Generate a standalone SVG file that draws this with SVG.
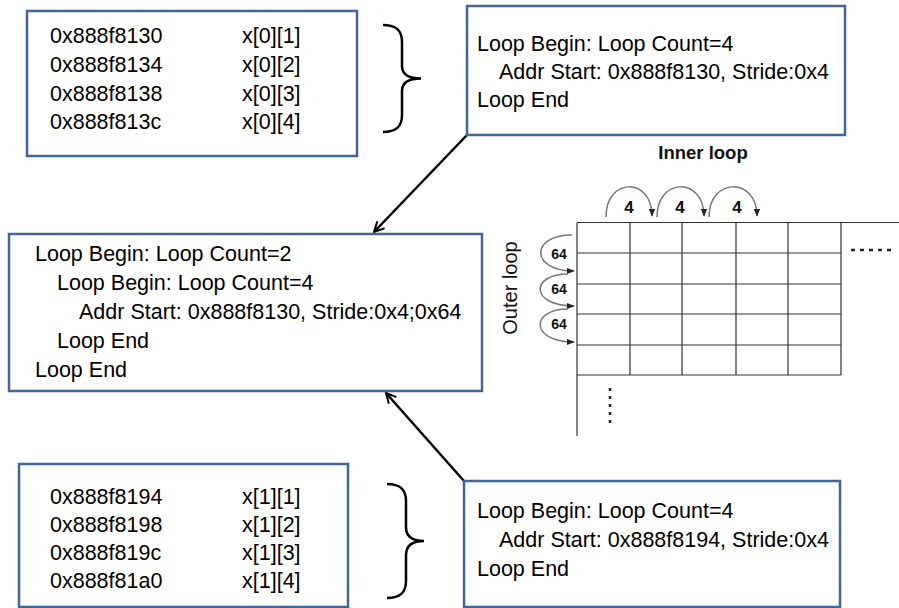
<svg xmlns="http://www.w3.org/2000/svg" width="899" height="608" viewBox="0 0 899 608">
<defs>
<style>
.box{fill:#fff;stroke:#41679a;stroke-width:2.5}
.t{font-family:"Liberation Sans",Arial,sans-serif;font-size:21.5px;fill:#000}
.brace{fill:none;stroke:#000;stroke-width:2.5}
.conn{fill:none;stroke:#000;stroke-width:2.5}
.grid{fill:none;stroke:#333;stroke-width:1.2}
.arc{fill:none;stroke:#777;stroke-width:1.5}
.lbl{font-family:"Liberation Sans",Arial,sans-serif;font-weight:bold;fill:#111;text-anchor:middle}
.dots{fill:none;stroke:#222;stroke-width:2.5}
</style>
<marker id="open" viewBox="0 0 12 12" refX="11" refY="6" markerWidth="12" markerHeight="12" markerUnits="userSpaceOnUse" orient="auto">
<path d="M1,1 L11,6 L1,11" fill="none" stroke="#000" stroke-width="2"/>
</marker>
<marker id="tri" viewBox="0 0 10 10" refX="9" refY="5" markerWidth="8" markerHeight="8" markerUnits="userSpaceOnUse" orient="auto">
<path d="M0,1 L10,5 L0,9 Z" fill="#222"/>
</marker>
</defs>

<g id="connectors">
<line class="conn" x1="467" y1="135" x2="374" y2="232" marker-end="url(#open)"/>
<line class="conn" x1="464" y1="481" x2="386" y2="393" marker-end="url(#open)"/>
</g>

<g id="addr-box-0">
<rect class="box" x="27" y="11" width="330" height="145"/>
<text class="t" x="50" y="43">0x888f8130</text>
<text class="t" x="50" y="72">0x888f8134</text>
<text class="t" x="50" y="100.5">0x888f8138</text>
<text class="t" x="50" y="129">0x888f813c</text>
<text class="t" x="242" y="43">x[0][1]</text>
<text class="t" x="242" y="72">x[0][2]</text>
<text class="t" x="242" y="100.5">x[0][3]</text>
<text class="t" x="242" y="129">x[0][4]</text>
</g>

<g id="brace-0">
<path class="brace" d="M383,25 C396,25 402,30 402,42 L402,66 C402,74 408,78.5 421,78.5 C408,78.5 402,83 402,91 L402,115 C402,127 396,132 383,132"/>
</g>

<g id="loop-box-0">
<rect class="box" x="467" y="6" width="378" height="129"/>
<text class="t" x="477" y="51">Loop Begin: Loop Count=4</text>
<text class="t" x="499" y="79">Addr Start: 0x888f8130, Stride:0x4</text>
<text class="t" x="477" y="107">Loop End</text>
</g>

<g id="merged-box">
<rect class="box" x="9" y="234" width="473" height="157"/>
<text class="t" x="35" y="261">Loop Begin: Loop Count=2</text>
<text class="t" x="57" y="290">Loop Begin: Loop Count=4</text>
<text class="t" x="79" y="319">Addr Start: 0x888f8130, Stride:0x4;0x64</text>
<text class="t" x="57" y="348">Loop End</text>
<text class="t" x="35" y="377">Loop End</text>
</g>

<g id="addr-box-1">
<rect class="box" x="19" y="464" width="329" height="143"/>
<text class="t" x="50" y="504">0x888f8194</text>
<text class="t" x="50" y="532">0x888f8198</text>
<text class="t" x="50" y="560">0x888f819c</text>
<text class="t" x="50" y="588">0x888f81a0</text>
<text class="t" x="242" y="504">x[1][1]</text>
<text class="t" x="242" y="532">x[1][2]</text>
<text class="t" x="242" y="560">x[1][3]</text>
<text class="t" x="242" y="588">x[1][4]</text>
</g>

<g id="brace-1">
<path class="brace" d="M387,484 C400,484 406,489 406,501 L406,527 C406,535 411,541 424,541 C411,541 406,547 406,555 L406,581 C406,593 400,598 387,598"/>
</g>

<g id="loop-box-1">
<rect class="box" x="464" y="481" width="376" height="126"/>
<text class="t" x="477" y="518">Loop Begin: Loop Count=4</text>
<text class="t" x="499" y="547">Addr Start: 0x888f8194, Stride:0x4</text>
<text class="t" x="477" y="576">Loop End</text>
</g>

<g id="array-grid">
<text class="lbl" x="703" y="159" font-size="18.5px">Inner loop</text>
<text class="lbl" x="0" y="0" font-size="20px" transform="translate(517,288) rotate(-90)" style="font-weight:normal">Outer loop</text>
<path class="grid" d="M577,222.5 H899 M577,222.5 V436 M577,253 H841 M577,284 H841 M577,314 H841 M577,345 H841 M577,375 H841 M630,222.5 V375 M682,222.5 V375 M736,222.5 V375 M788,222.5 V375 M841,222.5 V375"/>
<line class="dots" x1="851" y1="250" x2="892" y2="250" stroke-dasharray="4,5"/>
<line class="dots" x1="610" y1="388" x2="610" y2="428" stroke-dasharray="3,5"/>
<path class="arc" d="M606,217 C606,177 652,177 652,216" marker-end="url(#tri)"/>
<path class="arc" d="M657,217 C657,177 704,177 704,216" marker-end="url(#tri)"/>
<path class="arc" d="M709,217 C709,177 757,177 757,216" marker-end="url(#tri)"/>
<text class="lbl" x="629" y="213" font-size="17px">4</text>
<text class="lbl" x="680" y="213" font-size="17px">4</text>
<text class="lbl" x="737" y="213" font-size="17px">4</text>
<path class="arc" d="M572,235 C530,235 530,271 574,271" marker-end="url(#tri)"/>
<path class="arc" d="M568,274 C530,274 530,306 574,306" marker-end="url(#tri)"/>
<path class="arc" d="M568,309 C530,309 530,342 574,342" marker-end="url(#tri)"/>
<text class="lbl" x="559" y="259" font-size="14px">64</text>
<text class="lbl" x="559" y="294" font-size="14px">64</text>
<text class="lbl" x="559" y="329" font-size="14px">64</text>
</g>
</svg>
